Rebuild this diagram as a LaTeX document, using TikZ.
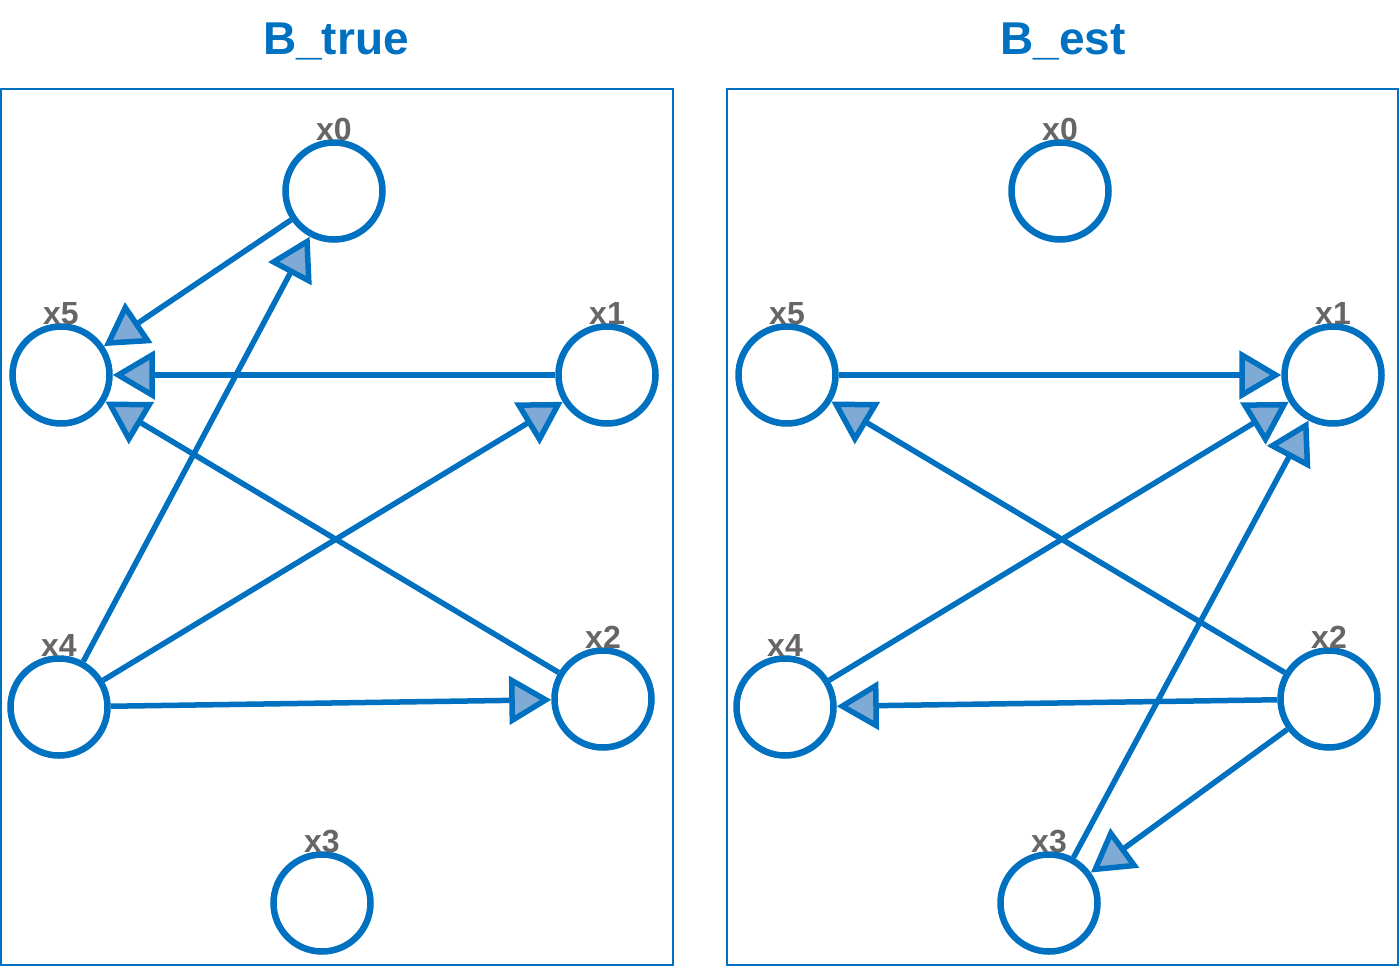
\documentclass[tikz,border=0pt]{standalone}
\usepackage{fontspec}
\setmainfont{Liberation Sans}
\usetikzlibrary{arrows.meta}
\definecolor{eblue}{RGB}{0,112,192}
\definecolor{afill}{RGB}{126,170,213}
\definecolor{lgray}{RGB}{102,102,102}
\tikzset{
  vnode/.style={circle,draw=eblue,line width=6.5pt,minimum size=97pt,inner sep=0pt,fill=white},
  lbl/.style={font=\fontsize{32}{32}\selectfont\bfseries,text=lgray,anchor=base,inner sep=0pt},
  ttl/.style={font=\fontsize{46}{46}\selectfont\bfseries,text=eblue,anchor=base,inner sep=0pt},
  panel/.style={draw=eblue,line width=2pt},
  edge/.style={draw=eblue,line width=5.5pt,-{Triangle[length=42pt,width=48pt,fill=afill,line width=5.5pt]}},
}
\begin{document}
\begin{tikzpicture}[x=1pt,y=-1pt]
\useasboundingbox (0,0) rectangle (1400,966);
\node[ttl] (t1) at (336,55) {B\_true};
\node[ttl] (t2) at (1063,55) {B\_est};
\draw[panel] (1,89) rectangle (673,964.5);
\draw[panel] (727,89) rectangle (1398,964.5);
% left graph
\node[vnode] (a0) at (334,191) {};
\node[vnode] (a5) at (61,375) {};
\node[vnode] (a1) at (607,375) {};
\node[vnode] (a4) at (59,707) {};
\node[vnode] (a2) at (603,699) {};
\node[vnode] (a3) at (322,903) {};
\draw[edge] (a0) -- (a5);
\draw[edge] (a4) -- (a0);
\draw[edge] (a1) -- (a5);
\draw[edge] (a2) -- (a5);
\draw[edge] (a4) -- (a1);
\draw[edge] (a4) -- (a2);
\foreach \n in {0,...,5}{\node[lbl] (la\n) at ([yshift=-1pt]a\n.north) {x\n};}
% right graph
\node[vnode] (b0) at (1060,191) {};
\node[vnode] (b5) at (787,375) {};
\node[vnode] (b1) at (1333,375) {};
\node[vnode] (b4) at (785,707) {};
\node[vnode] (b2) at (1329,699) {};
\node[vnode] (b3) at (1049,903) {};
\draw[edge] (b5) -- (b1);
\draw[edge] (b2) -- (b5);
\draw[edge] (b4) -- (b1);
\draw[edge] (b3) -- (b1);
\draw[edge] (b2) -- (b4);
\draw[edge] (b2) -- (b3);
\foreach \n in {0,...,5}{\node[lbl] (lb\n) at ([yshift=-1pt]b\n.north) {x\n};}
\end{tikzpicture}
\end{document}
